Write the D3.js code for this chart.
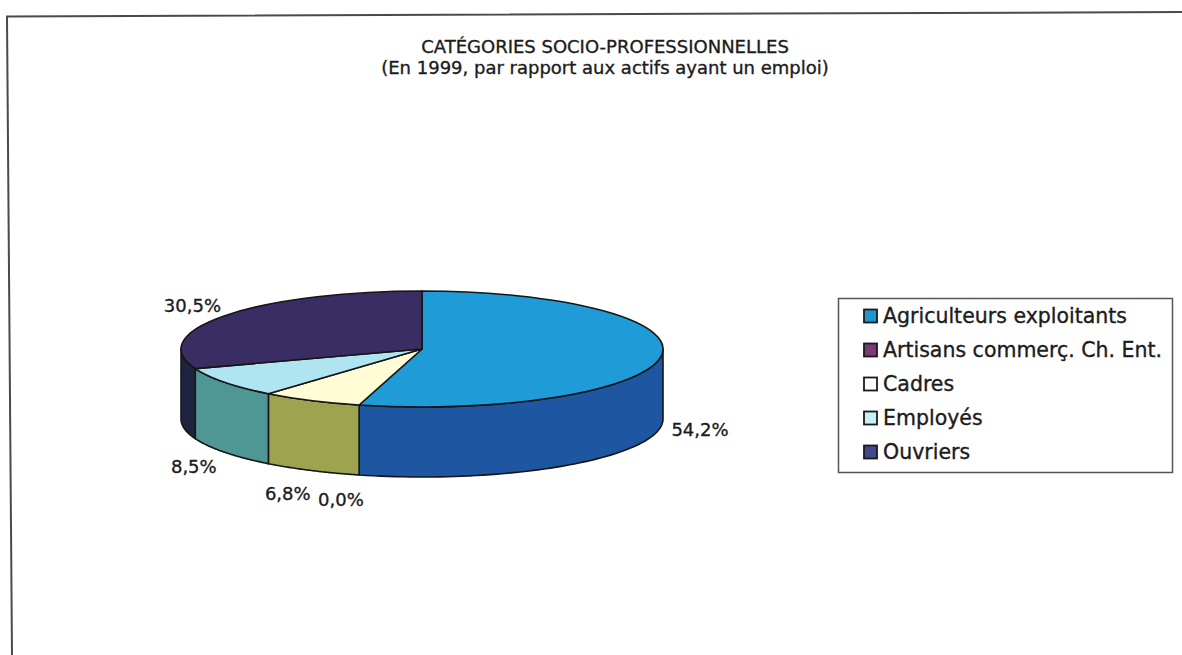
<!DOCTYPE html>
<html>
<head>
<meta charset="utf-8">
<script src="https://cdn.jsdelivr.net/npm/d3@7"></script>
<style>
  html, body { margin: 0; padding: 0; background: #ffffff; }
  svg { display: block; }
  text { font-family: "DejaVu Sans", sans-serif; fill: #1c1c1c; stroke: #1c1c1c; stroke-width: 0.35px; }
</style>
</head>
<body>
<svg id="chart" width="1182" height="655"></svg>
<script>
// Socio-professional categories, share of employed workers in 1999 (%)
const categories = ["Agriculteurs exploitants", "Artisans commerç. Ch. Ent.", "Cadres", "Employés", "Ouvriers"];
const shares = [54.2, 0.0, 6.8, 8.5, 30.5];
const topColors = ["#1f9bd7", "#7c3a72", "#fffcd6", "#aee5f1", "#3a2d63"];
const sideColors = ["#1e56a2", "#5a2550", "#9da34f", "#4f9794", "#1e2440"];
const legendColors = ["#1b98cf", "#7b3a73", "#ffffff", "#c6f1f4", "#3f4a8a"];
const titleLines = ["CATÉGORIES SOCIO-PROFESSIONNELLES", "(En 1999, par rapport aux actifs ayant un emploi)"];

const svg = d3.select("#chart");
const W = 1182, H = 655;

// chart area frame (top and left edges)
svg.append("path")
  .attr("d", "M" + W + ",12 L7,16.5 L12," + H)
  .attr("fill", "none")
  .attr("stroke", "#4a4a4a")
  .attr("stroke-width", 2);

// title, two lines
svg.append("g")
  .attr("text-anchor", "middle")
  .style("font-size", "18px")
  .selectAll("text").data(titleLines).join("text")
  .attr("x", 605)
  .attr("y", (d, i) => 52.5 + i * 21)
  .text(d => d);

// pie geometry (elliptical projection of a tilted disc)
const cx = 422, cy = 349, rx = 241, ry = 58, depth = 70;
const data = categories.map((c, i) => ({ name: c, value: shares[i], i }));
const pie = d3.pie().sort(null).value(d => d.value).startAngle(0).endAngle(2 * Math.PI);
const slices = pie(data);

const fillTop = d3.scaleOrdinal().domain(categories).range(topColors);
const fillSide = d3.scaleOrdinal().domain(categories).range(sideColors);
const fillLegend = d3.scaleOrdinal().domain(categories).range(legendColors);

const proj = (a, z) => [cx + rx * Math.sin(a), cy - ry * Math.cos(a) + z];
const edge = "#161616";

// side walls: only the front half of the rim is visible
const sideG = svg.append("g");
const line = d3.line();
slices.forEach(s => {
  const a0 = Math.max(s.startAngle, Math.PI / 2);
  const a1 = Math.min(s.endAngle, 3 * Math.PI / 2);
  if (a1 <= a0) return;
  const n = 60;
  const angles = d3.range(n + 1).map(k => a0 + (a1 - a0) * k / n);
  const pts = angles.map(a => proj(a, 0)).concat(angles.slice().reverse().map(a => proj(a, depth)));
  sideG.append("path")
    .attr("d", line(pts) + "Z")
    .attr("fill", fillSide(s.data.name))
    .attr("stroke", edge)
    .attr("stroke-width", 1.6)
    .attr("stroke-linejoin", "round");
});

// top faces, drawn as a circular pie squashed vertically
const arc = d3.arc().innerRadius(0).outerRadius(rx);
const topG = svg.append("g")
  .attr("transform", `translate(${cx},${cy}) scale(1,${ry / rx})`);
topG.selectAll("path")
  .data(slices.filter(s => s.value > 0))
  .join("path")
  .attr("d", arc)
  .attr("fill", d => fillTop(d.data.name))
  .attr("stroke", edge)
  .attr("stroke-width", 1.6)
  .attr("stroke-linejoin", "round")
  .attr("vector-effect", "non-scaling-stroke");

// percentage labels placed just outside each slice
const fmt = v => d3.format(".1f")(v).replace(".", ",") + "%";
const labelG = svg.append("g").style("font-size", "18px");
slices.forEach(s => {
  const mid = (s.startAngle + s.endAngle) / 2;
  const sn = Math.sin(mid), cs = Math.cos(mid);
  const front = cs < 0;
  const [ex, ey] = proj(mid, front ? depth : 0);
  const t = labelG.append("text").attr("text-anchor", "middle").text(fmt(s.value));
  const bb = t.node().getBBox();
  const gx = 11, gy = front ? 19 : 9;
  const x = ex + sn * (gx + bb.width / 2) - (front ? 10 * cs * cs : 0);
  const y = ey - cs * (gy + 7);
  t.attr("x", x).attr("y", y + 6);
});

// legend
const lg = svg.append("g");
lg.append("rect")
  .attr("x", 838.5).attr("y", 298.5)
  .attr("width", 334).attr("height", 174)
  .attr("fill", "#ffffff")
  .attr("stroke", "#555555")
  .attr("stroke-width", 1.5);
const rows = lg.selectAll("g.row").data(categories).join("g")
  .attr("class", "row")
  .attr("transform", (d, i) => `translate(864,${316 + i * 34})`);
rows.append("rect")
  .attr("x", 0).attr("y", -6.5)
  .attr("width", 13).attr("height", 13)
  .attr("fill", d => fillLegend(d))
  .attr("stroke", "#1a1a1a")
  .attr("stroke-width", 1.8);
rows.append("text")
  .attr("x", 19).attr("y", 7)
  .style("font-size", "20.5px")
  .text(d => d);
</script>
</body>
</html>
